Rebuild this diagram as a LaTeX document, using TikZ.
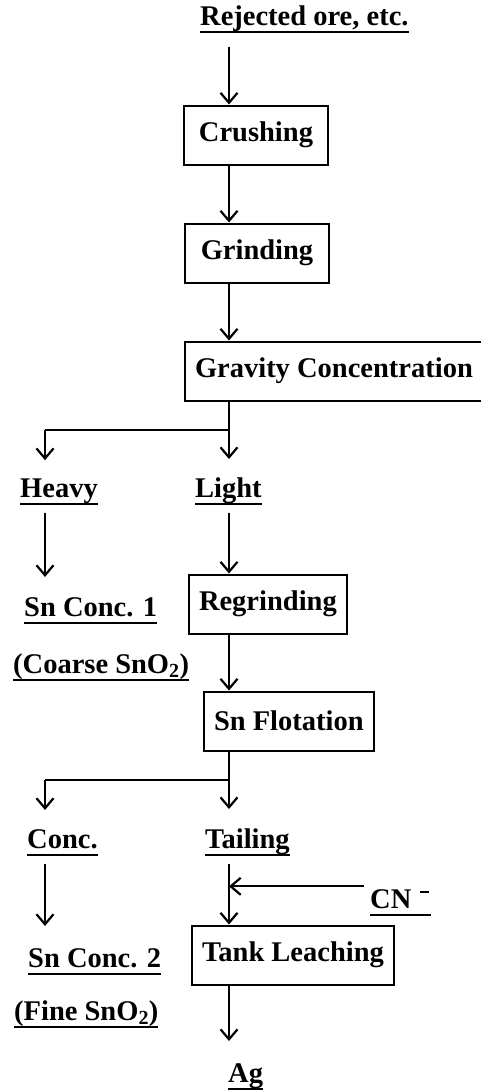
\documentclass[tikz,border=0pt]{standalone}
\usepackage{fontspec}
\setmainfont{Liberation Serif}
\usetikzlibrary{arrows.meta}

% heavy underline at a fixed depth below the baseline
\newcommand\uline[1]{\setbox0\hbox{#1}\rlap{\raisebox{-7.5pt}{\rule{\wd0}{1.8pt}}}\box0}

\tikzset{
  flow/.style={line width=2.2pt,-{Straight Barb[length=10pt,width=17pt,line width=2.2pt]}},
  pipe/.style={line width=2pt},
  unit/.style={draw,line width=2pt,anchor=west,minimum height=59pt,inner xsep=10pt,
    font=\fontsize{28.5}{30}\selectfont\bfseries},
  stream/.style={anchor=base west,inner sep=0pt,font=\fontsize{28.5}{30}\selectfont\bfseries}
}

\begin{document}
\begin{tikzpicture}[x=1pt,y=-1pt]
\useasboundingbox (0,0) rectangle (481,1092);
\coordinate (axis) at (229,0);
\coordinate (side) at (45,0);

% process units
\node[unit,minimum width=144pt] (crush) at (183,135) {Crushing};
\node[unit,minimum width=144pt] (grind) at (184,253) {Grinding};
\node[unit] (grav) at (184,371) {Gravity Concentration};
\node[unit] (regrind) at (188,604) {Regrinding};
\node[unit] (flot) at (203,721) {Sn Flotation};
\node[unit] (leach) at (191,955) {Tank Leaching};

% streams and products
\node[stream] (feed) at (200,25) {\uline{Rejected ore, etc.}};
\node[stream] (heavy) at (20,497) {\uline{Heavy}};
\node[stream] (light) at (195,497) {\uline{Light}};
\node[stream] (conc1) at (24,616) {\uline{Sn Conc. 1}};
\node[stream] (coarse) at (13,673) {\uline{(Coarse SnO\textsubscript{2})}};
\node[stream] (conc) at (27,848) {\uline{Conc.}};
\node[stream] (tail) at (205,848) {\uline{Tailing}};
\node[stream] (cn) at (370,908) {\uline{CN\hspace{9pt}\raisebox{15pt}{\rule{9pt}{1.8pt}}\hspace{2pt}}};
\node[stream] (conc2) at (28,967) {\uline{Sn Conc. 2}};
\node[stream] (fine) at (14,1020) {\uline{(Fine SnO\textsubscript{2})}};
\node[stream] (ag) at (228,1082) {\uline{Ag}};

% main line
\draw[flow,shorten <=14pt] (feed.south -| axis) -- (crush.north -| axis);
\draw[flow] (crush.south -| axis) -- (grind.north -| axis);
\draw[flow] (grind.south -| axis) -- (grav.north -| axis);
\draw[pipe] (grav.south -| axis) -- ++(0,28) coordinate (split1);
\draw[pipe] (split1) -- (split1 -| side);
\draw[flow,shorten >=18pt] (split1) -- (light.north -| axis);
\draw[flow,shorten >=18pt] (split1 -| side) -- (heavy.north -| side);
\draw[flow,shorten <=8pt,shorten >=20pt] (heavy.south -| side) -- (conc1.north -| side);
\draw[flow,shorten <=8pt] (light.south -| axis) -- (regrind.north -| axis);
\draw[flow] (regrind.south -| axis) -- (flot.north -| axis);
\draw[pipe] (flot.south -| axis) -- ++(0,28) coordinate (split2);
\draw[pipe] (split2) -- (split2 -| side);
\draw[flow,shorten >=19pt] (split2) -- (tail.north -| axis);
\draw[flow,shorten >=19pt] (split2 -| side) -- (conc.north -| side);
\draw[flow,shorten <=8pt,shorten >=22pt] (conc.south -| side) -- (conc2.north -| side);
\draw[flow,shorten <=8pt] (tail.south -| axis) -- (leach.north -| axis);
\draw[flow] (cn.west) ++(-6,-16) coordinate (cnin) -- (cnin -| axis);
\draw[flow,shorten >=22pt] (leach.south -| axis) -- (ag.north -| axis);
\end{tikzpicture}
\end{document}
